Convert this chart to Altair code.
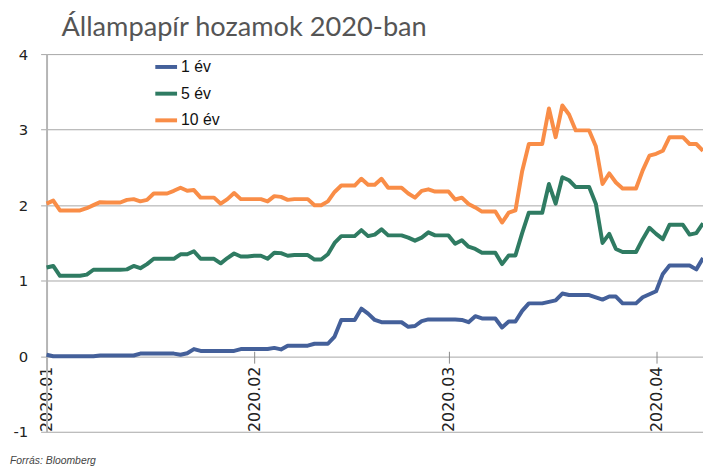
import altair as alt
import pandas as pd

# Calendar days 2020-01-01 .. 2020-04-08 (weekends hold previous value)
dates = [d.strftime("%Y-%m-%d") for d in pd.date_range("2020-01-01", "2020-04-08", freq="D")]

series_names = ["1 év", "5 év", "10 év"]
series_colors = ["#44609A", "#2F7B62", "#F98D47"]

one_year = [0.02, 0.00, 0.00, 0.00, 0.00, 0.00, 0.00, 0.00, 0.01, 0.01,
            0.01, 0.01, 0.01, 0.01, 0.035, 0.035, 0.035, 0.035, 0.035, 0.035,
            0.02, 0.04, 0.095, 0.07, 0.07, 0.07, 0.07, 0.07, 0.07, 0.095,
            0.095, 0.095, 0.095, 0.095, 0.11, 0.09, 0.14, 0.14, 0.14, 0.14,
            0.165, 0.165, 0.165, 0.26, 0.48, 0.48, 0.48, 0.63, 0.565, 0.48,
            0.45, 0.45, 0.45, 0.45, 0.39, 0.40, 0.465, 0.487, 0.487, 0.487,
            0.487, 0.487, 0.48, 0.45, 0.53, 0.50, 0.50, 0.50, 0.38, 0.46,
            0.46, 0.60, 0.70, 0.70, 0.70, 0.72, 0.74, 0.83, 0.81, 0.81,
            0.81, 0.81, 0.78, 0.75, 0.79, 0.79, 0.70, 0.70, 0.70, 0.78,
            0.82, 0.86, 1.09, 1.20, 1.20, 1.20, 1.20, 1.15, 1.30]

five_year = [1.175, 1.195, 1.065, 1.065, 1.065, 1.065, 1.08, 1.145, 1.145, 1.145,
             1.145, 1.145, 1.15, 1.195, 1.165, 1.22, 1.29, 1.29, 1.29, 1.29,
             1.35, 1.35, 1.39, 1.29, 1.29, 1.29, 1.23, 1.30, 1.36, 1.32,
             1.32, 1.33, 1.33, 1.29, 1.37, 1.365, 1.33, 1.34, 1.34, 1.34,
             1.28, 1.28, 1.35, 1.50, 1.59, 1.59, 1.59, 1.67, 1.59, 1.61,
             1.68, 1.60, 1.60, 1.60, 1.57, 1.53, 1.57, 1.64, 1.60, 1.60,
             1.60, 1.49, 1.535, 1.45, 1.42, 1.37, 1.37, 1.37, 1.22, 1.335,
             1.335, 1.63, 1.90, 1.90, 1.90, 2.28, 2.02, 2.37, 2.33, 2.24,
             2.24, 2.24, 2.02, 1.50, 1.62, 1.42, 1.38, 1.38, 1.38, 1.55,
             1.70, 1.62, 1.55, 1.74, 1.74, 1.74, 1.61, 1.63, 1.76]

ten_year = [2.02, 2.06, 1.93, 1.93, 1.93, 1.93, 1.96, 2.00, 2.04, 2.035,
            2.035, 2.035, 2.07, 2.08, 2.05, 2.07, 2.155, 2.155, 2.155, 2.19,
            2.23, 2.19, 2.20, 2.10, 2.10, 2.10, 2.02, 2.08, 2.16, 2.08,
            2.08, 2.08, 2.08, 2.05, 2.12, 2.11, 2.07, 2.08, 2.08, 2.08,
            2.00, 2.00, 2.05, 2.175, 2.26, 2.26, 2.26, 2.35, 2.27, 2.27,
            2.35, 2.23, 2.23, 2.23, 2.155, 2.10, 2.19, 2.21, 2.18, 2.18,
            2.18, 2.075, 2.10, 2.015, 1.97, 1.915, 1.915, 1.915, 1.77, 1.90,
            1.93, 2.45, 2.81, 2.81, 2.81, 3.28, 2.90, 3.32, 3.20, 2.99,
            2.99, 2.99, 2.78, 2.28, 2.42, 2.30, 2.22, 2.22, 2.22, 2.46,
            2.655, 2.68, 2.72, 2.90, 2.90, 2.90, 2.81, 2.81, 2.72]

y_ticks = [-1, 0, 1, 2, 3, 4]
x_ticks = [(2020, 1), (2020, 2), (2020, 3), (2020, 4)]
title_text = "Állampapír hozamok 2020-ban"
source_text = "Forrás: Bloomberg"

rows = []
for name, vals in zip(series_names, [one_year, five_year, ten_year]):
    for d, v in zip(dates, vals):
        rows.append({"date": d, "value": v, "series": name})
df = pd.DataFrame(rows)

W, H = 664, 382

lines = alt.Chart(df).mark_line(strokeWidth=4, strokeJoin="round").encode(
    x=alt.X(
        "date:T",
        scale=alt.Scale(
            type="utc",
            domain=[alt.DateTime(year=2020, month=1, date=1, utc=True),
                    alt.DateTime(year=2020, month=4, date=8, utc=True)],
        ),
        axis=alt.Axis(
            values=[alt.DateTime(year=y, month=m, date=1, utc=True) for y, m in x_ticks],
            labelExpr="utcFormat(datum.value, '%Y.%m')",
            labelAngle=270,
            offset=-(H / 5) - 5,
            domain=False,
            grid=False,
            tickSize=12,
            tickColor="#8a8a8a",
            tickWidth=1,
            labelPadding=3,
            labelFont="DejaVu Sans",
            labelFontSize=16,
            labelColor="#222222",
            title=None,
        ),
    ),
    y=alt.Y(
        "value:Q",
        scale=alt.Scale(domain=[-1, 4], nice=False, zero=False),
        axis=alt.Axis(
            values=y_ticks,
            labelExpr="'' + datum.value",
            grid=True,
            gridColor="#a6a6a6",
            gridWidth=1,
            domain=True,
            domainColor="#b5b5b5",
            domainWidth=2,
            tickSize=6,
            tickColor="#a6a6a6",
            labelPadding=13,
            labelFont="DejaVu Sans",
            labelFontSize=15,
            labelColor="#222222",
            title=None,
        ),
    ),
    color=alt.Color(
        "series:N",
        scale=alt.Scale(domain=series_names, range=series_colors),
        legend=alt.Legend(
            title=None,
            orient="none",
            legendX=108,
            legendY=0,
            symbolType="stroke",
            symbolStrokeWidth=4,
            symbolSize=484,
            labelFont="Liberation Sans",
            labelFontSize=16,
            labelColor="#111111",
            labelOffset=2,
            rowPadding=6,
            padding=0,
        ),
    ),
)

title = alt.Chart(pd.DataFrame({"t": [title_text]})).mark_text(
    align="left", baseline="alphabetic", font="Lato",
    fontSize=27.5, fontWeight="normal", color="#555555",
).encode(x=alt.value(15), y=alt.value(-18), text="t:N")

source = alt.Chart(pd.DataFrame({"t": [source_text]})).mark_text(
    align="left", baseline="alphabetic", font="Liberation Sans",
    fontStyle="italic", fontSize=10.5, color="#444444",
).encode(x=alt.value(-37), y=alt.value(415), text="t:N")

chart = alt.layer(lines, title, source).properties(
    width=W,
    height=H,
    padding={"left": 39, "top": 44, "right": 0, "bottom": 33},
    autosize="none",
).configure_view(stroke=None)

chart.save("out.html", embed_options={"renderer": "svg", "actions": False})
